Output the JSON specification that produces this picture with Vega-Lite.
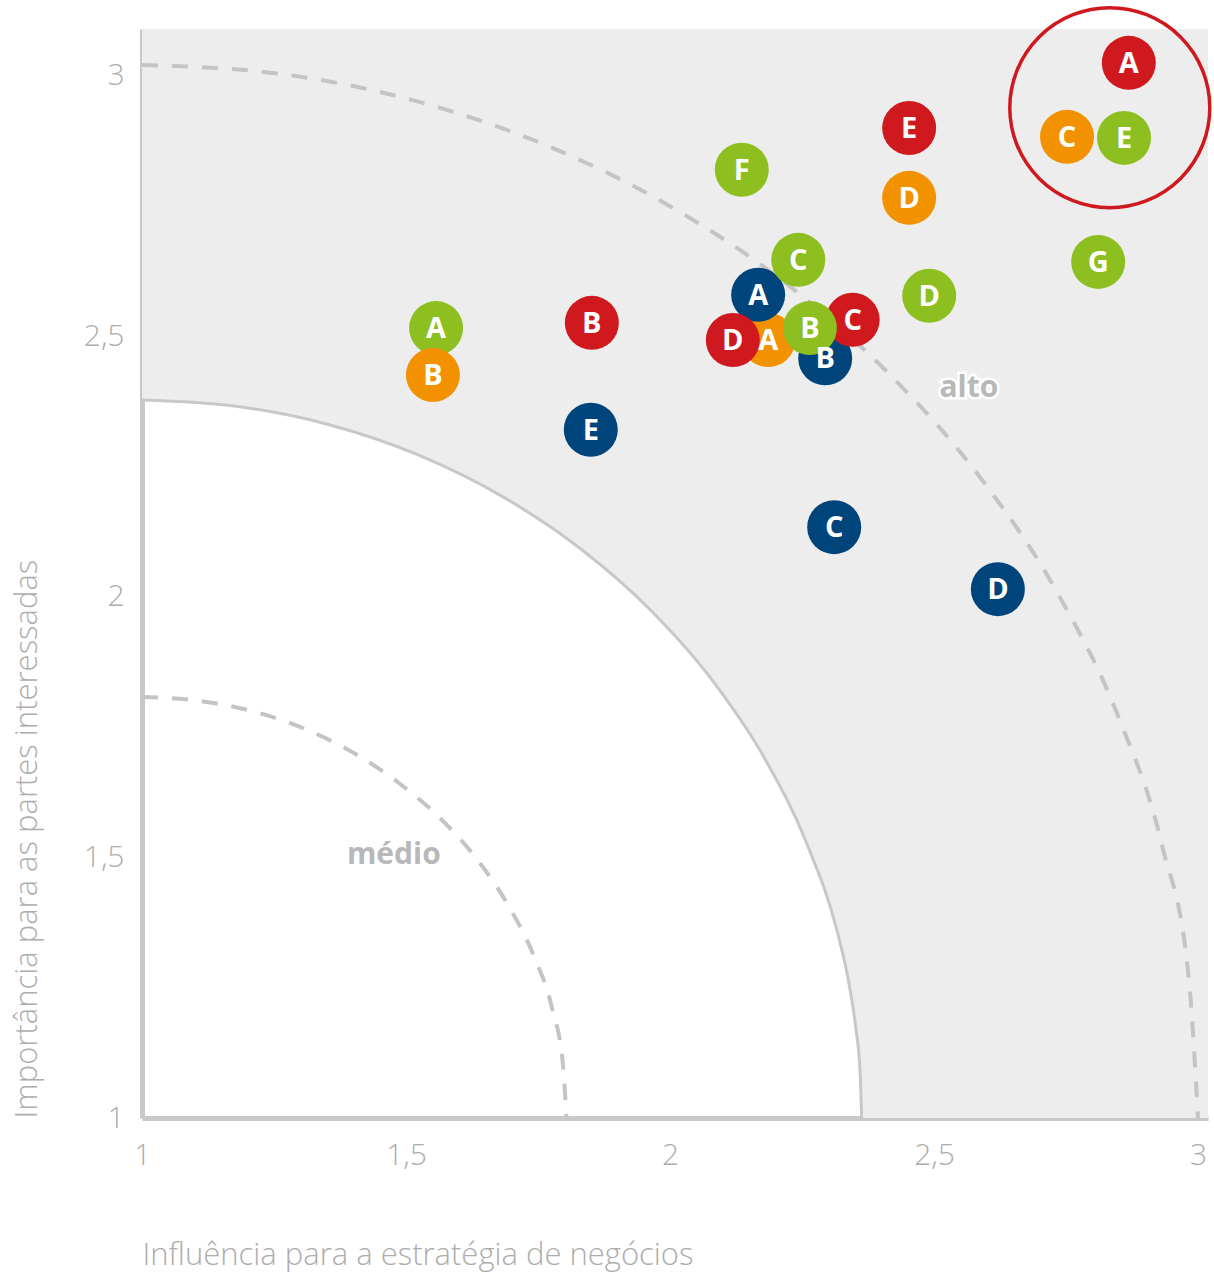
{
  "$schema": "https://vega.github.io/schema/vega-lite/v6.json",
  "width": 1066,
  "height": 1089,
  "autosize": "none",
  "padding": {"left": 142, "top": 29, "right": 6, "bottom": 155},
  "background": "white",
  "config": {"view": {"stroke": null}, "font": "Open Sans"},
  "datasets": {
    "zona": [
      {"x": 1.0, "y": 2.378},
      {"x": 1.178, "y": 2.366},
      {"x": 1.353, "y": 2.331},
      {"x": 1.522, "y": 2.273},
      {"x": 1.682, "y": 2.193},
      {"x": 1.83, "y": 2.093},
      {"x": 1.964, "y": 1.974},
      {"x": 2.081, "y": 1.839},
      {"x": 2.18, "y": 1.689},
      {"x": 2.259, "y": 1.527},
      {"x": 2.317, "y": 1.357},
      {"x": 2.337, "y": 1.269},
      {"x": 2.351, "y": 1.18},
      {"x": 2.36, "y": 1.09},
      {"x": 2.363, "y": 1.0},
      {"x": 3.019, "y": 1.0}
    ],
    "arco_externo": [
      {"x": 1.0, "y": 3.021},
      {"x": 1.261, "y": 3.004},
      {"x": 1.518, "y": 2.952},
      {"x": 1.765, "y": 2.867},
      {"x": 2.0, "y": 2.75},
      {"x": 2.218, "y": 2.603},
      {"x": 2.414, "y": 2.429},
      {"x": 2.587, "y": 2.23},
      {"x": 2.732, "y": 2.011},
      {"x": 2.848, "y": 1.773},
      {"x": 2.932, "y": 1.523},
      {"x": 2.983, "y": 1.264},
      {"x": 3.0, "y": 1.0}
    ],
    "arco_interno": [
      {"x": 1.0, "y": 1.808},
      {"x": 1.105, "y": 1.801},
      {"x": 1.208, "y": 1.781},
      {"x": 1.308, "y": 1.747},
      {"x": 1.402, "y": 1.7},
      {"x": 1.489, "y": 1.641},
      {"x": 1.569, "y": 1.571},
      {"x": 1.638, "y": 1.492},
      {"x": 1.696, "y": 1.404},
      {"x": 1.743, "y": 1.309},
      {"x": 1.777, "y": 1.209},
      {"x": 1.797, "y": 1.105},
      {"x": 1.804, "y": 1.0}
    ],
    "rotulos": [
      {"x": 2.566, "y": 2.401, "texto": "alto"},
      {"x": 1.477, "y": 1.505, "texto": "médio"}
    ],
    "destaque": [
      {"x": 2.833, "y": 2.939}
    ],
    "pontos": [
      {"x": 2.869, "y": 3.025, "letra": "A", "grupo": "vermelho"},
      {"x": 2.752, "y": 2.883, "letra": "C", "grupo": "laranja"},
      {"x": 2.86, "y": 2.881, "letra": "E", "grupo": "verde"},
      {"x": 2.453, "y": 2.9, "letra": "E", "grupo": "vermelho"},
      {"x": 2.136, "y": 2.82, "letra": "F", "grupo": "verde"},
      {"x": 2.453, "y": 2.766, "letra": "D", "grupo": "laranja"},
      {"x": 2.811, "y": 2.643, "letra": "G", "grupo": "verde"},
      {"x": 2.491, "y": 2.578, "letra": "D", "grupo": "verde"},
      {"x": 1.557, "y": 2.516, "letra": "A", "grupo": "verde"},
      {"x": 1.551, "y": 2.426, "letra": "B", "grupo": "laranja"},
      {"x": 1.852, "y": 2.526, "letra": "B", "grupo": "vermelho"},
      {"x": 1.85, "y": 2.321, "letra": "E", "grupo": "azul"},
      {"x": 2.311, "y": 2.134, "letra": "C", "grupo": "azul"},
      {"x": 2.621, "y": 2.015, "letra": "D", "grupo": "azul"},
      {"x": 2.294, "y": 2.458, "letra": "B", "grupo": "azul"},
      {"x": 2.346, "y": 2.532, "letra": "C", "grupo": "vermelho"},
      {"x": 2.186, "y": 2.493, "letra": "A", "grupo": "laranja"},
      {"x": 2.167, "y": 2.58, "letra": "A", "grupo": "azul"},
      {"x": 2.119, "y": 2.493, "letra": "D", "grupo": "vermelho"},
      {"x": 2.265, "y": 2.516, "letra": "B", "grupo": "verde"},
      {"x": 2.243, "y": 2.647, "letra": "C", "grupo": "verde"}
    ]
  },
  "encoding": {
    "x": {
      "field": "x",
      "type": "quantitative",
      "scale": {"domain": [1, 3.019], "nice": false, "zero": false},
      "axis": {
        "title": "Influência para a estratégia de negócios",
        "values": [1, 1.5, 2, 2.5, 3],
        "labelExpr": "replace(format(datum.value, '~g'), '.', ',')",
        "grid": false,
        "ticks": false,
        "domainColor": "#c8c8c8",
        "domainWidth": 5,
        "labelFont": "Open Sans",
        "labelFontWeight": 300,
        "labelFontSize": 30,
        "labelColor": "#adadad",
        "labelPadding": 22,
        "labelFlush": false,
        "labelOverlap": false,
        "titleFont": "Open Sans",
        "titleFontWeight": 300,
        "titleFontSize": 31,
        "titleColor": "#adadad",
        "titleAnchor": "start",
        "titlePadding": 70
      }
    },
    "y": {
      "field": "y",
      "type": "quantitative",
      "scale": {"domain": [1, 3.09], "nice": false, "zero": false},
      "axis": {
        "title": "Importância para as partes interessadas",
        "values": [1, 1.5, 2, 2.5, 3],
        "labelExpr": "replace(format(datum.value, '~g'), '.', ',')",
        "grid": false,
        "ticks": false,
        "domainColor": "#c8c8c8",
        "domainWidth": 5,
        "labelFont": "Open Sans",
        "labelFontWeight": 300,
        "labelFontSize": 30,
        "labelColor": "#adadad",
        "labelPadding": 18,
        "labelFlush": false,
        "labelOverlap": false,
        "titleFont": "Open Sans",
        "titleFontWeight": 300,
        "titleFontSize": 31,
        "titleColor": "#adadad",
        "titleAnchor": "start",
        "titlePadding": 40
      }
    }
  },
  "layer": [
    {
      "data": {"name": "zona"},
      "mark": {"type": "area", "color": "#ededed", "opacity": 1, "interpolate": "monotone"},
      "encoding": {"y2": {"datum": 3.09}}
    },
    {
      "data": {"name": "zona"},
      "transform": [{"filter": "datum.x < 2.4"}],
      "mark": {"type": "line", "color": "#c8c8c8", "strokeWidth": 3, "interpolate": "monotone"}
    },
    {
      "data": {"name": "arco_externo"},
      "mark": {"type": "line", "color": "#c4c4c4", "strokeWidth": 4, "strokeDash": [16, 14], "interpolate": "monotone"}
    },
    {
      "data": {"name": "arco_interno"},
      "mark": {"type": "line", "color": "#c4c4c4", "strokeWidth": 4, "strokeDash": [16, 14], "interpolate": "monotone"}
    },
    {
      "data": {"name": "rotulos"},
      "mark": {"type": "text", "font": "Open Sans", "fontWeight": "bold", "fontSize": 30, "stroke": "white", "strokeWidth": 5, "color": "#b8b8b8"},
      "encoding": {"text": {"field": "texto"}}
    },
    {
      "data": {"name": "rotulos"},
      "mark": {"type": "text", "font": "Open Sans", "fontWeight": "bold", "fontSize": 30, "color": "#b8b8b8"},
      "encoding": {"text": {"field": "texto"}}
    },
    {
      "data": {"name": "destaque"},
      "mark": {"type": "point", "shape": "circle", "filled": false, "size": 40000, "stroke": "#d0191e", "strokeWidth": 3.5, "opacity": 1}
    },
    {
      "data": {"name": "pontos"},
      "mark": {"type": "point", "shape": "circle", "filled": true, "size": 2916, "opacity": 1},
      "encoding": {
        "color": {
          "field": "grupo",
          "type": "nominal",
          "scale": {
            "domain": ["vermelho", "laranja", "verde", "azul"],
            "range": ["#d0191e", "#f39200", "#8cbf1f", "#00447c"]
          },
          "legend": null
        }
      }
    },
    {
      "data": {"name": "pontos"},
      "mark": {"type": "text", "font": "Open Sans", "fontWeight": "bold", "fontSize": 29, "color": "white", "dy": 1},
      "encoding": {"text": {"field": "letra"}}
    }
  ]
}
